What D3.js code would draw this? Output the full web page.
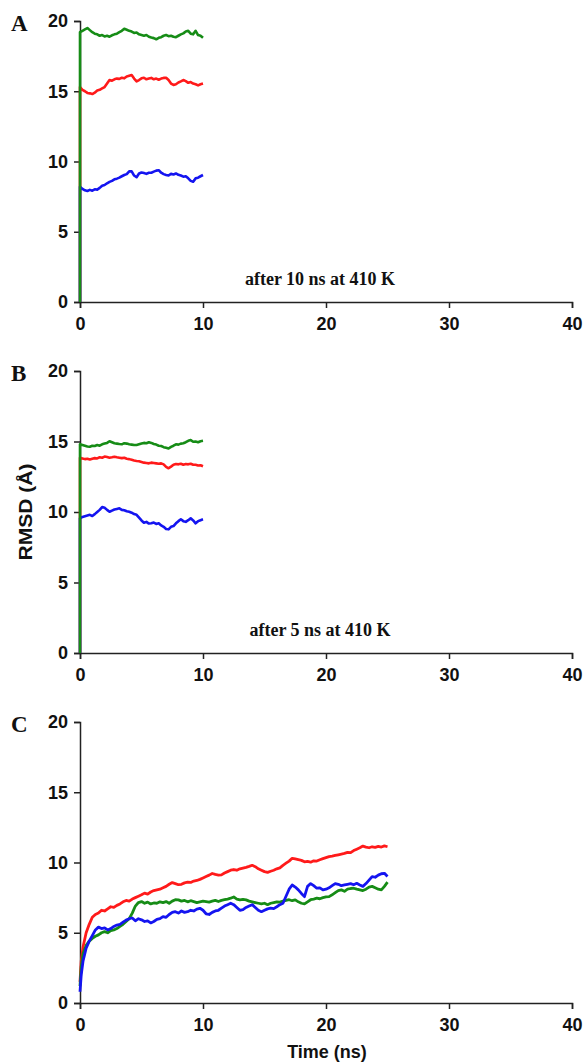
<!DOCTYPE html>
<html lang="en">
<head>
<meta charset="utf-8">
<script src="https://d3js.org/d3.v7.min.js"></script>
<style>
  body { margin: 0; background: #fff; }
  .axis path, .axis line { stroke: #222; stroke-width: 1.5px; }
  .axis text { font-family: "Liberation Sans", Arial, sans-serif; font-weight: bold; font-size: 18px; fill: #111; }
  .letter { font-family: "Liberation Serif", "Times New Roman", serif; font-weight: bold; font-size: 23px; fill: #111; }
  .note { font-family: "Liberation Serif", "Times New Roman", serif; font-weight: bold; font-size: 18px; fill: #111; }
  .label { font-family: "Liberation Sans", Arial, sans-serif; font-weight: bold; font-size: 18px; fill: #111; }
  .series { fill: none; stroke-linejoin: round; }
</style>
</head>
<body>
<svg width="586" height="1063"></svg>
<script>
// ---- data (RMSD in Angstrom vs time in ns) ----
var xTicks = [0, 10, 20, 30, 40];
var yTicks = [0, 5, 10, 15, 20];

// panels A and B: first point is the jump up from 0 at t = 0
var timeAB = [0, 0, 0.2, 0.4, 0.6, 0.8, 1.0, 1.2, 1.4, 1.6, 1.8, 2.0, 2.2, 2.4, 2.6, 2.8, 3.0, 3.2, 3.4, 3.6, 3.8,
  4.0, 4.2, 4.4, 4.6, 4.8, 5.0, 5.2, 5.4, 5.6, 5.8, 6.0, 6.2, 6.4, 6.6, 6.8, 7.0, 7.2, 7.4, 7.6, 7.8,
  8.0, 8.2, 8.4, 8.6, 8.8, 9.0, 9.2, 9.4, 9.6, 9.8, 10.0];

var greenA = [0, 19.2, 19.3, 19.4, 19.5, 19.35, 19.2, 19.1, 19.05, 18.95, 19.0, 18.9, 18.95, 18.88, 18.98, 19.05, 19.1, 19.2, 19.3, 19.45, 19.38,
  19.3, 19.25, 19.15, 19.18, 19.05, 19.0, 18.95, 19.0, 18.88, 18.82, 18.78, 18.7, 18.8, 18.85, 18.95, 19.0, 18.92, 18.95, 18.88, 18.85,
  18.95, 19.05, 19.12, 19.25, 19.3, 19.1, 19.05, 19.3, 19.0, 18.95, 18.8];
var redA = [0, 15.3, 15.1, 15.0, 14.88, 14.85, 14.8, 14.9, 15.05, 15.1, 15.2, 15.3, 15.55, 15.8, 15.75, 15.85, 15.9, 15.88, 15.96, 15.92, 16.05,
  16.1, 16.15, 15.9, 15.7, 15.8, 15.92, 15.96, 15.85, 15.9, 15.95, 15.85, 15.9, 15.82, 15.9, 15.95, 15.96, 15.8, 15.55, 15.45, 15.5,
  15.62, 15.7, 15.8, 15.72, 15.6, 15.65, 15.55, 15.5, 15.42, 15.5, 15.55];
var blueA = [0, 8.2, 8.05, 7.95, 7.9, 7.98, 7.92, 8.02, 8.0, 8.12, 8.28, 8.33, 8.45, 8.55, 8.62, 8.73, 8.78, 8.85, 8.95, 9.04, 9.1,
  9.3, 9.3, 9.0, 8.88, 9.15, 9.22, 9.18, 9.12, 9.2, 9.2, 9.28, 9.35, 9.38, 9.2, 9.1, 9.04, 9.0, 9.12, 9.08, 9.15,
  9.05, 9.0, 8.92, 8.95, 8.8, 8.62, 8.56, 8.8, 8.85, 8.95, 9.04];

var greenB = [0, 14.8, 14.75, 14.7, 14.65, 14.63, 14.7, 14.68, 14.75, 14.7, 14.8, 14.85, 14.9, 15.02, 14.95, 14.88, 14.85, 14.82, 14.8, 14.88, 14.85,
  14.8, 14.78, 14.75, 14.75, 14.8, 14.85, 14.9, 14.88, 14.95, 14.9, 14.82, 14.78, 14.7, 14.68, 14.6, 14.55, 14.5, 14.62, 14.7, 14.8,
  14.78, 14.85, 14.88, 14.95, 15.05, 15.1, 14.98, 15.0, 14.95, 15.02, 15.05];
var redB = [0, 13.85, 13.8, 13.75, 13.78, 13.72, 13.78, 13.82, 13.8, 13.88, 13.85, 13.93, 13.9, 13.85, 13.88, 13.92, 13.88, 13.85, 13.82, 13.85, 13.78,
  13.75, 13.7, 13.65, 13.62, 13.6, 13.55, 13.5, 13.48, 13.45, 13.5, 13.48, 13.45, 13.42, 13.45, 13.38, 13.2, 13.1, 13.22, 13.35, 13.4,
  13.38, 13.42, 13.35, 13.4, 13.38, 13.42, 13.35, 13.35, 13.3, 13.32, 13.25];
var blueB = [0, 9.55, 9.65, 9.7, 9.75, 9.8, 9.72, 9.85, 10.0, 10.15, 10.35, 10.3, 10.15, 10.02, 10.1, 10.18, 10.22, 10.26, 10.15, 10.12, 10.05,
  10.02, 9.95, 9.85, 9.8, 9.6, 9.4, 9.24, 9.3, 9.18, 9.2, 9.25, 9.15, 9.2, 9.05, 8.95, 8.8, 8.77, 8.95, 9.0, 9.2,
  9.35, 9.48, 9.35, 9.3, 9.42, 9.55, 9.4, 9.2, 9.35, 9.42, 9.48];

// panel C
var timeC = [0, 0.1, 0.25, 0.5, 0.75, 1.0, 1.25, 1.5, 1.75, 2.0, 2.25, 2.5, 2.75, 3.0, 3.25, 3.5, 3.75, 4.0, 4.25, 4.5, 4.75,
  5.0, 5.25, 5.5, 5.75, 6.0, 6.25, 6.5, 6.75, 7.0, 7.25, 7.5, 7.75, 8.0, 8.25, 8.5, 8.75, 9.0, 9.25, 9.5, 9.75,
  10.0, 10.25, 10.5, 10.75, 11.0, 11.25, 11.5, 11.75, 12.0, 12.25, 12.5, 12.75, 13.0, 13.25, 13.5, 13.75, 14.0, 14.25, 14.5, 14.75,
  15.0, 15.25, 15.5, 15.75, 16.0, 16.25, 16.5, 16.75, 17.0, 17.25, 17.5, 17.75, 18.0, 18.25, 18.5, 18.75, 19.0, 19.25, 19.5, 19.75,
  20.0, 20.25, 20.5, 20.75, 21.0, 21.25, 21.5, 21.75, 22.0, 22.25, 22.5, 22.75, 23.0, 23.25, 23.5, 23.75, 24.0, 24.25, 24.5, 24.75, 25.0];

var redC = [1.5, 3.0, 4.0, 5.0, 5.6, 6.1, 6.3, 6.4, 6.6, 6.55, 6.7, 6.85, 6.8, 6.95, 7.05, 7.2, 7.3, 7.25, 7.4, 7.5, 7.6,
  7.7, 7.82, 7.75, 7.9, 8.0, 8.05, 8.1, 8.2, 8.3, 8.45, 8.57, 8.5, 8.42, 8.45, 8.55, 8.6, 8.58, 8.68, 8.72, 8.8,
  8.9, 9.0, 9.1, 9.22, 9.15, 9.1, 9.12, 9.25, 9.35, 9.45, 9.5, 9.45, 9.55, 9.6, 9.65, 9.72, 9.8, 9.7, 9.55, 9.45,
  9.35, 9.3, 9.38, 9.45, 9.55, 9.62, 9.8, 9.95, 10.1, 10.3, 10.25, 10.2, 10.15, 10.05, 10.08, 10.02, 10.12, 10.1, 10.2, 10.28,
  10.35, 10.42, 10.45, 10.5, 10.55, 10.6, 10.65, 10.72, 10.7, 10.85, 10.95, 11.05, 11.17, 11.1, 11.05, 11.12, 11.08, 11.15, 11.1, 11.18, 11.12];
var greenC = [1.2, 2.6, 3.5, 4.1, 4.4, 4.6, 4.75, 4.85, 5.0, 5.08, 5.0, 5.15, 5.2, 5.3, 5.45, 5.6, 5.8, 6.0, 6.4, 6.9, 7.15,
  7.22, 7.1, 7.18, 7.05, 7.12, 7.1, 7.2, 7.15, 7.22, 7.1, 7.25, 7.35, 7.34, 7.25, 7.3, 7.2, 7.28, 7.22, 7.15, 7.2,
  7.25, 7.22, 7.18, 7.25, 7.3, 7.22, 7.3, 7.35, 7.4, 7.46, 7.55, 7.4, 7.34, 7.38, 7.34, 7.25, 7.2, 7.15, 7.1, 7.05,
  7.1, 7.0, 7.1, 7.15, 7.2, 7.18, 7.25, 7.3, 7.35, 7.28, 7.34, 7.2, 7.1, 7.05, 7.2, 7.35, 7.4, 7.46, 7.42, 7.5,
  7.55, 7.57, 7.7, 7.85, 8.0, 8.05, 7.95, 8.1, 8.15, 8.17, 8.1, 8.05, 8.0, 8.1, 8.25, 8.3, 8.2, 8.1, 8.05, 8.3, 8.6];
var blueC = [0.8, 2.0, 3.0, 3.9, 4.4, 4.8, 5.2, 5.4, 5.3, 5.35, 5.2, 5.3, 5.45, 5.55, 5.6, 5.75, 5.9, 6.0, 6.05, 5.85, 6.0,
  5.92, 5.8, 5.85, 5.7, 5.8, 5.95, 6.0, 6.15, 6.1, 6.3, 6.45, 6.5, 6.4, 6.55, 6.45, 6.5, 6.6, 6.55, 6.68, 6.74,
  6.6, 6.35, 6.3, 6.45, 6.55, 6.6, 6.75, 6.9, 7.0, 7.1, 7.0, 6.8, 6.6, 6.65, 6.8, 6.9, 7.0, 6.8, 6.6, 6.5,
  6.6, 6.7, 6.75, 6.72, 6.85, 7.0, 7.1, 7.6, 8.1, 8.4, 8.25, 8.05, 7.8, 7.57, 8.3, 8.5, 8.35, 8.17, 8.2, 8.05,
  8.1, 8.2, 8.35, 8.5, 8.45, 8.35, 8.4, 8.45, 8.5, 8.42, 8.52, 8.4, 8.3, 8.5, 8.75, 9.0, 8.95, 9.1, 9.2, 9.23, 9.0];

var colors = { red: "#ff1a1a", green: "#168c16", blue: "#1414f0" };

// ---- layout ----
var svg = d3.select("svg");
var x = d3.scaleLinear().domain([0, 40]).range([80, 572]);

var panels = [
  { letter: "A", top: 21, bottom: 302, note: "after 10 ns at 410 K", time: timeAB,
    series: [["red", redA], ["blue", blueA], ["green", greenA]], width: 2.6 },
  { letter: "B", top: 371, bottom: 653, note: "after 5 ns at 410 K", time: timeAB,
    series: [["red", redB], ["blue", blueB], ["green", greenB]], width: 2.6 },
  { letter: "C", top: 722, bottom: 1003, note: null, time: timeC,
    series: [["red", redC], ["green", greenC], ["blue", blueC]], width: 2.8 }
];

panels.forEach(function(p) {
  var y = d3.scaleLinear().domain([0, 20]).range([p.bottom, p.top]);
  var g = svg.append("g");

  g.append("g")
      .attr("class", "axis")
      .attr("transform", "translate(0," + p.bottom + ")")
      .call(d3.axisBottom(x).tickValues(xTicks).tickSizeOuter(6).tickSize(6).tickPadding(9));

  g.append("g")
      .attr("class", "axis")
      .attr("transform", "translate(" + x(0) + ",0)")
      .call(d3.axisLeft(y).tickValues(yTicks).tickSizeOuter(6).tickSize(6).tickPadding(6));

  var line = d3.line()
      .x(function(d, i) { return x(p.time[i]); })
      .y(function(d) { return y(d); });

  p.series.forEach(function(s) {
    g.append("path")
        .attr("class", "series")
        .attr("d", line(s[1]))
        .attr("stroke", colors[s[0]])
        .attr("stroke-width", p.width);
  });

  g.append("text")
      .attr("class", "letter")
      .attr("x", 11)
      .attr("y", p.top + 10)
      .text(p.letter);

  if (p.note) {
    g.append("text")
        .attr("class", "note")
        .attr("x", 320)
        .attr("y", p.bottom - 17)
        .attr("text-anchor", "middle")
        .text(p.note);
  }
});

svg.append("text")
    .attr("class", "label")
    .attr("transform", "translate(32,512) rotate(-90)")
    .attr("text-anchor", "middle")
    .attr("textLength", 97)
    .attr("lengthAdjust", "spacingAndGlyphs")
    .text("RMSD (Å)");

svg.append("text")
    .attr("class", "label")
    .attr("x", 327)
    .attr("y", 1058)
    .attr("text-anchor", "middle")
    .text("Time (ns)");
</script>
</body>
</html>
